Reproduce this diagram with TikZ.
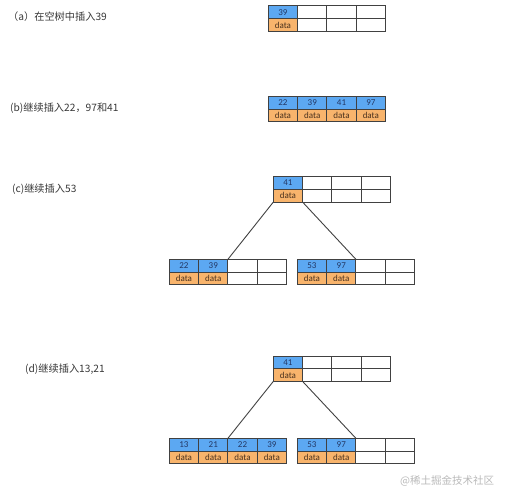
\documentclass[tikz,border=0pt]{standalone}
\usepackage{fontspec}
\setmainfont{Carlito}
\newfontfamily\cjk{Noto Sans CJK SC}
\definecolor{keyblue}{RGB}{92,168,242}
\definecolor{dataorange}{RGB}{248,180,108}
\definecolor{cellline}{RGB}{65,65,65}
\definecolor{keytext}{RGB}{35,55,100}
\definecolor{datatext}{RGB}{75,50,30}
\definecolor{labeltext}{RGB}{55,55,55}
\definecolor{wmtext}{RGB}{185,185,185}
\newcommand\bnode[5]{%
  \foreach \i in {1,...,4}{%
    \ifnum\i>#4\relax
      \node[emptycell] (#1k\i) at ({#2+(\i-0.5)*29.3},{#3+6.35}) {};
      \node[emptycell,anchor=north] (#1d\i) at (#1k\i.south) {};
    \fi}
  \foreach \k [count=\i] in {#5}{%
    \node[keycell] (#1k\i) at ({#2+(\i-0.5)*29.3},{#3+6.35}) {\k};
    \node[datacell,anchor=north] (#1d\i) at (#1k\i.south) {data};
  }%
}
\begin{document}
\begin{tikzpicture}[x=1pt,y=-1pt,
  cell/.style={draw=cellline, line width=1pt, minimum width=29.3pt, minimum height=12.7pt,
    inner sep=0pt, outer sep=0pt, font=\fontsize{9}{9}\selectfont},
  keycell/.style={cell, fill=keyblue, text=keytext},
  datacell/.style={cell, fill=dataorange, text=datatext},
  emptycell/.style={cell, fill=white},
  steplabel/.style={anchor=west, inner sep=0pt, font=\cjk\fontsize{10.2}{12}\selectfont, text=labeltext},
  edge/.style={draw=cellline, line width=0.9pt},
  wmark/.style={anchor=west, inner sep=0pt, font=\cjk\fontsize{10.5}{12}\selectfont, text=wmtext}]
\useasboundingbox (0,0) rectangle (511,500);
% labels
\node[steplabel] (la) at (8,16.5) {（a）在空树中插入39};
\node[steplabel] (lb) at (10,108.5) {(b)继续插入22，97和41};
\node[steplabel] (lc) at (12,189) {(c)继续插入53};
\node[steplabel] (ld) at (25,369) {(d)继续插入13,21};
% (a)
\bnode{a}{268.3}{6}{1}{39}
% (b)
\bnode{b}{268.3}{96.5}{4}{22,39,41,97}
% (c)
\bnode{cr}{273.3}{176.7}{1}{41}
\bnode{cl}{169.3}{259.3}{2}{22,39}
\bnode{cq}{297.3}{259.3}{2}{53,97}
\draw[edge] (crd1.south west) -- (clk2.north east);
\draw[edge] (crd1.south east) -- (cqk2.north east);
% (d)
\bnode{dr}{273.3}{356}{1}{41}
\bnode{dl}{169.3}{438.3}{4}{13,21,22,39}
\bnode{dq}{297.3}{438.3}{2}{53,97}
\draw[edge] (drd1.south west) -- (dlk2.north east);
\draw[edge] (drd1.south east) -- (dqk2.north east);
% watermark
\node[wmark] (wm) at (400,481) {@稀土掘金技术社区};
\end{tikzpicture}
\end{document}
